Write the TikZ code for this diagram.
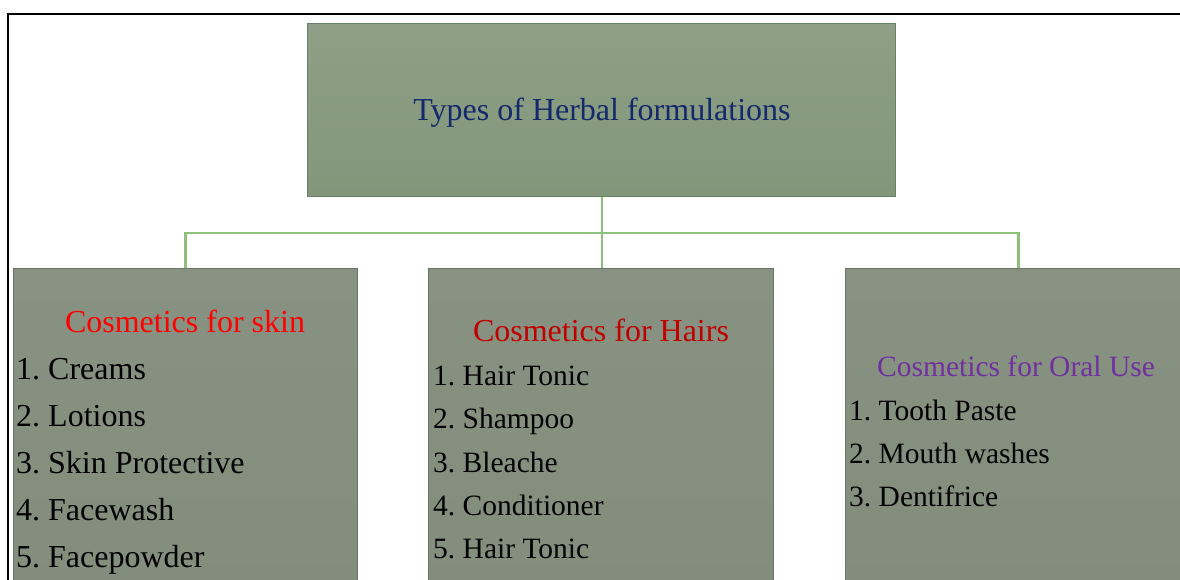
\documentclass[tikz,border=0pt]{standalone}
\usepackage{fontspec}
\setmainfont{Liberation Serif}
\begin{document}
\frenchspacing
\begin{tikzpicture}[x=1pt,y=-1pt,
  topbox/.style={draw=black!45!green!20!gray, line width=1pt, top color=topA, bottom color=topB, anchor=north west, inner sep=0pt},
  childbox/.style={draw=childD, line width=1pt, top color=childA, bottom color=childB, anchor=north west, inner sep=0pt},
  conn/.style={draw=connG, line width=2.4pt},
  titletext/.style={anchor=base, font=\fontsize{32}{38}\selectfont, text=titleC, inner sep=0pt},
  headbig/.style={anchor=base, font=\fontsize{32}{38}\selectfont, inner sep=0pt},
  headsmall/.style={anchor=base, font=\fontsize{29.5}{35}\selectfont, inner sep=0pt},
  itembig/.style={anchor=base west, font=\fontsize{32}{38}\selectfont, inner sep=0pt},
  itemsmall/.style={anchor=base west, font=\fontsize{29.5}{35}\selectfont, inner sep=0pt},
  frameline/.style={line width=2pt, draw=black}]
\definecolor{topA}{HTML}{8D9F86}
\definecolor{topB}{HTML}{82977A}
\definecolor{childA}{HTML}{889282}
\definecolor{childB}{HTML}{838D7B}
\definecolor{childD}{HTML}{6C7466}
\definecolor{connG}{HTML}{8DC07A}
\definecolor{titleC}{HTML}{13296B}
\definecolor{redA}{HTML}{FF0000}
\definecolor{redB}{HTML}{C00000}
\definecolor{purp}{HTML}{7030A0}
\clip (0,0) rectangle (1180,579);
\fill[white] (0,0) rectangle (1180,579);
% frame
\coordinate (fbl) at (8,585);
\coordinate (ftl) at (8,14);
\coordinate (ftr) at (1185,14);
\draw[frameline] (fbl) -- (ftl) -- (ftr);
% boxes
\node[topbox, minimum width=588, minimum height=173] (top) at (307,23) {};
\node[childbox, minimum width=344, minimum height=330] (skin) at (13,268) {};
\node[childbox, minimum width=345, minimum height=330] (hair) at (428,268) {};
\node[childbox, minimum width=346, minimum height=330] (oral) at (845,268) {};
% connectors
\coordinate (junc) at (602,233);
\draw[conn] (top.south -| junc) -- (hair.north -| junc);
\draw[conn] (skin.north) |- (junc) -| (oral.north);
% title
\node[titletext] (ttl) at (602,120) {Types of Herbal formulations};
% skin
\node[headbig, text=redA] (h1) at (185,332) {Cosmetics for skin};
\node[itembig] (s1) at (16,379) {1. Creams};
\node[itembig] (s2) at (16,426) {2. Lotions};
\node[itembig] (s3) at (16,473) {3. Skin Protective};
\node[itembig] (s4) at (16,520) {4. Facewash};
\node[itembig] (s5) at (16,567) {5. Facepowder};
% hair
\node[headbig, text=redB] (h2) at (601,341) {Cosmetics for Hairs};
\node[itemsmall] (c1) at (433,385) {1. Hair Tonic};
\node[itemsmall] (c2) at (433,428.5) {2. Shampoo};
\node[itemsmall] (c3) at (433,472) {3. Bleache};
\node[itemsmall] (c4) at (433,515) {4. Conditioner};
\node[itemsmall] (c5) at (433,558) {5. Hair Tonic};
% oral
\node[headsmall, text=purp] (h3) at (1016,376) {Cosmetics for Oral Use};
\node[itemsmall] (o1) at (849,420) {1. Tooth Paste};
\node[itemsmall] (o2) at (849,463) {2. Mouth washes};
\node[itemsmall] (o3) at (849,506) {3. Dentifrice};
\end{tikzpicture}
\end{document}
